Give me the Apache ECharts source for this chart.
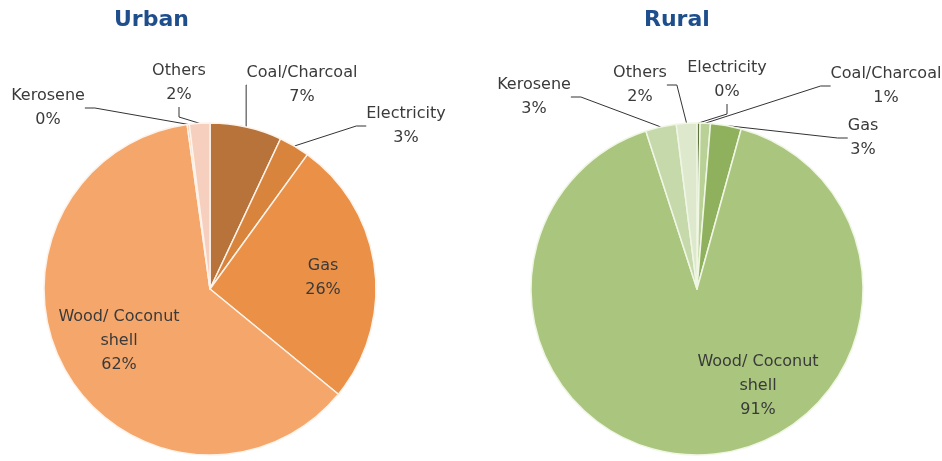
<!DOCTYPE html>
<html>
<head>
<meta charset="utf-8">
<script src="https://cdn.jsdelivr.net/npm/echarts@6/dist/echarts.min.js"></script>
<style>
  html, body { margin: 0; padding: 0; background: #fff; }
  #main { width: 942px; height: 461px; }
</style>
</head>
<body>
<div id="main"></div>
<script>
var urbanNames = ['Coal/Charcoal', 'Electricity', 'Gas', 'Wood/ Coconut\nshell', 'Kerosene', 'Others']
var urbanValues = [7, 3, 26, 62, 0.2, 2]
var ruralNames = ['Electricity', 'Coal/Charcoal', 'Gas', 'Wood/ Coconut\nshell', 'Kerosene', 'Others']
var ruralValues = [0.3, 1, 3, 91, 3, 2]

var urbanColors = ['#b8733a', '#d9843c', '#ea9047', '#f5a66b', '#f2b48d', '#f7cfbe']
var ruralColors = ['#5f743d', '#b9d196', '#8fb15d', '#a9c57e', '#c6d9aa', '#dde8cd']

// label anchor points (text centre) per slice
var urbanLabelPos = [[302, 85], [406, 126], [323, 278], [119, 341], [48, 108], [179, 83]]
var ruralLabelPos = [[727, 80], [886, 86], [863, 138], [758, 386], [534, 97], [640, 85]]
var urbanInside = [2, 3]
var ruralInside = [3]

var chartDom = document.getElementById('main')
var myChart = echarts.init(chartDom)
var option

function buildData (names, values, colors, inner) {
  return names.map(function (n, i) {
    var item = { name: n, value: values[i], itemStyle: { color: colors[i] } }
    if (inner.indexOf(i) >= 0) {
      item.label = { position: 'inside' }
      item.labelLine = { show: false }
    }
    return item
  })
}

function pieSeries (name, cx, names, values, colors, pos, inner, border) {
  return {
    name: name,
    type: 'pie',
    radius: 166,
    center: [cx, 289],
    startAngle: 90,
    animation: false,
    avoidLabelOverlap: false,
    itemStyle: { borderColor: border, borderWidth: 1.5 },
    label: {
      fontFamily: 'DejaVu Sans',
      fontSize: 16,
      lineHeight: 24,
      color: '#3a3a3a',
      align: 'center',
      overflow: 'none',
      formatter: function (p) {
        return p.name + '\n' + Math.round(p.value) + '%'
      }
    },
    labelLine: {
      show: true,
      length: 10,
      length2: 10,
      lineStyle: { color: '#333', width: 1 }
    },
    labelLayout: function (p) {
      var xy = pos[p.dataIndex]
      return { x: xy[0], y: xy[1], align: 'center', verticalAlign: 'middle' }
    },
    emphasis: { disabled: true },
    data: buildData(names, values, colors, inner)
  }
}

option = {
  backgroundColor: '#fff',
  title: [
    {
      text: 'Urban', left: 114, top: 9, padding: 0,
      textStyle: { fontFamily: 'DejaVu Sans', fontWeight: 'bold', fontSize: 22, color: '#1f4e8c' }
    },
    {
      text: 'Rural', left: 644, top: 9, padding: 0,
      textStyle: { fontFamily: 'DejaVu Sans', fontWeight: 'bold', fontSize: 22, color: '#1f4e8c' }
    }
  ],
  series: [
    pieSeries('Urban', 210, urbanNames, urbanValues, urbanColors, urbanLabelPos, urbanInside, '#fdf3ea'),
    pieSeries('Rural', 697, ruralNames, ruralValues, ruralColors, ruralLabelPos, ruralInside, '#f0f6e4')
  ]
}

option && myChart.setOption(option)
</script>
</body>
</html>
